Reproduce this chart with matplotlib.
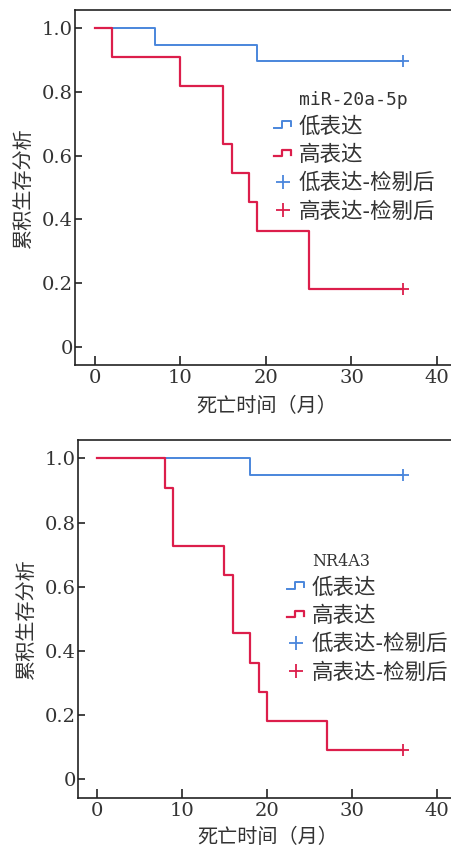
import matplotlib
matplotlib.use('Agg')
import matplotlib.pyplot as plt
from matplotlib.lines import Line2D
from matplotlib.legend_handler import HandlerBase

# ---------------- data ----------------
# miR-20a-5p panel (Kaplan-Meier steps)
mir_low_t = [0, 7, 19, 36]
mir_low_s = [1.0, 0.947, 0.895, 0.895]
mir_high_t = [0, 2, 10, 15, 16, 18, 19, 25, 36]
mir_high_s = [1.0, 0.909, 0.818, 0.636, 0.545, 0.455, 0.364, 0.182, 0.182]

# NR4A3 panel
nr_low_t = [0, 18, 36]
nr_low_s = [1.0, 0.947, 0.947]
nr_high_t = [0, 8, 9, 15, 16, 18, 19, 20, 27, 36]
nr_high_s = [1.0, 0.909, 0.727, 0.636, 0.455, 0.364, 0.273, 0.182, 0.091, 0.091]

censor_t = 36
xticks = [0, 10, 20, 30, 40]
yticks = [0, 0.2, 0.4, 0.6, 0.8, 1.0]
ytick_labels = ['0', '0.2', '0.4', '0.6', '0.8', '1.0']
labels = ['低表达', '高表达', '低表达-检剔后', '高表达-检剔后']
titles = ['miR-20a-5p', 'NR4A3']
xlabel = '死亡时间（月）'
ylabel = '累积生存分析'

BLUE = '#4a86dc'
RED = '#dc1e4b'
CJK = ['Noto Sans CJK SC', 'DejaVu Sans']


class StepHandler(HandlerBase):
    # little step icon like the SPSS legend
    def create_artists(self, legend, orig_handle, xdescent, ydescent,
                       width, height, fontsize, trans):
        x0, y0 = -xdescent, -ydescent
        xs = [x0, x0 + 0.45 * width, x0 + 0.45 * width, x0 + width, x0 + width]
        ys = [y0 + 0.3 * height, y0 + 0.3 * height, y0 + 0.75 * height,
              y0 + 0.75 * height, y0 + 0.4 * height]
        ln = Line2D(xs, ys, color=orig_handle.get_color(),
                    lw=orig_handle.get_linewidth(), transform=trans)
        return [ln]


fig = plt.figure(figsize=(4.52, 8.5), dpi=100)

W, H = 452.0, 850.0
# axes boxes in pixels: left, top, right, bottom
boxes = [(75, 10, 458, 365), (78, 440, 458, 797.7)]
xlims = [(-2.34, 42.46), (-2.2, 42.43)]
ylims = [(-0.0564, 1.0564), (-0.057, 1.057)]
leg_pos = [(0.52, 0.775), (0.55, 0.69)]
xlabelpads = [6, 5]
title_fonts = [dict(family='DejaVu Sans Mono', size=13),
               dict(family='DejaVu Serif', size=11.5)]
panels = [(mir_low_t, mir_low_s, mir_high_t, mir_high_s),
          (nr_low_t, nr_low_s, nr_high_t, nr_high_s)]

for i, (lt, ls, ht, hs) in enumerate(panels):
    l, t, r, b = boxes[i]
    ax = fig.add_axes([l / W, (H - b) / H, (r - l) / W, (b - t) / H])
    ax.set_facecolor('white')

    ln_low, = ax.plot(lt, ls, drawstyle='steps-post', color=BLUE, lw=1.4)
    ln_high, = ax.plot(ht, hs, drawstyle='steps-post', color=RED, lw=1.6)
    c_low, = ax.plot([censor_t], [ls[-1]], '+', color=BLUE, ms=8, mew=1.3)
    c_high, = ax.plot([censor_t], [hs[-1]], '+', color=RED, ms=8, mew=1.3)

    ax.set_xlim(*xlims[i])
    ax.set_ylim(*ylims[i])
    ax.set_xticks(xticks)
    ax.set_yticks(yticks)
    ax.set_yticklabels(ytick_labels)
    ax.tick_params(direction='in', length=6.5, width=1.2, color='#222222',
                   labelcolor='#333333', labelsize=14)
    ax.tick_params(axis='y', pad=1.5, length=5)
    ax.tick_params(axis='x', pad=3)
    for lab in ax.get_xticklabels() + ax.get_yticklabels():
        lab.set_family('DejaVu Serif')
    for sp in ax.spines.values():
        sp.set_linewidth(1.2)
        sp.set_color('#222222')

    ax.set_xlabel(xlabel, family=CJK, fontsize=14.5, color='#333333',
                  labelpad=xlabelpads[i])
    ax.set_ylabel(ylabel, family=CJK, fontsize=14.5, color='#333333', labelpad=6)

    blank = Line2D([], [], linestyle='none')
    leg = ax.legend([blank, ln_low, ln_high, c_low, c_high],
                    [titles[i]] + labels,
                    handler_map={ln_low: StepHandler(), ln_high: StepHandler()},
                    loc='upper left', bbox_to_anchor=leg_pos[i],
                    frameon=False, borderpad=0, borderaxespad=0,
                    handlelength=0.8, handletextpad=0.35, labelspacing=0.3,
                    markerscale=1.25,
                    prop={'family': CJK, 'size': 15.5})
    texts = leg.get_texts()
    texts[0].set_fontfamily(title_fonts[i]['family'])
    texts[0].set_fontsize(title_fonts[i]['size'])
    for tx in texts:
        tx.set_color('#333333')

fig.savefig('out.png', dpi=100)
